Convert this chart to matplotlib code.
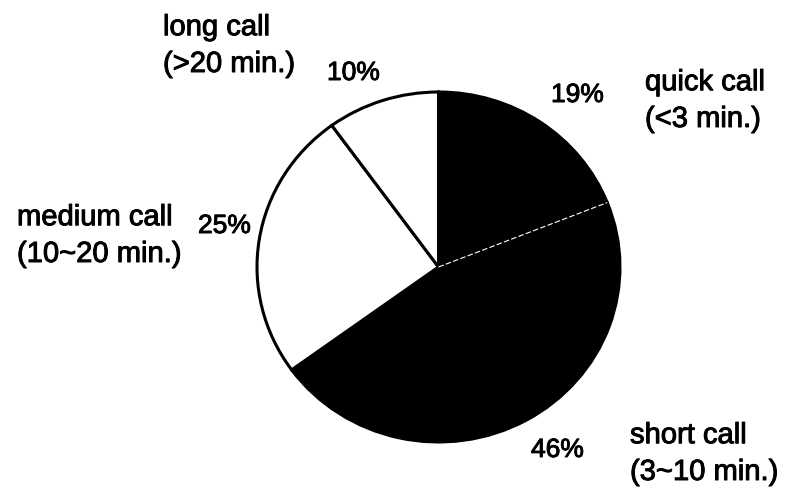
import numpy as np
import matplotlib.pyplot as plt
import matplotlib.patheffects as pe

plt.rcParams["font.family"] = ["Liberation Sans", "DejaVu Sans"]

# call-duration share, clockwise from 12 o'clock
NAMES = ["quick call", "short call", "medium call", "long call"]
RANGES = ["(<3 min.)", "(3~10 min.)", "(10~20 min.)", "(>20 min.)"]
SHARES = [19, 46, 25, 10]
FILLS = ["black", "black", "white", "white"]

W, H = 789, 498

# where the text goes, in pixels from the top-left corner
# (x, baseline of the bottom line)
NAME_POS = [(645, 127), (630, 480), (17, 262), (163, 72)]
PCT_POS = [(551, 102), (531, 457), (198, 233), (327, 80)]

# pie centre and radii in pixels (drawn a touch wider than tall)
CX, CY = 438.5, 267
RX, RY = 181.5, 175

# slightly heavier strokes on the lettering
HEAVY = [pe.withStroke(linewidth=0.7, foreground="black")]


def main():
    fig = plt.figure(figsize=(W / 100, H / 100), dpi=100)
    ax = fig.add_axes([0, 0, 1, 1])

    ax.pie(SHARES, colors=FILLS, startangle=90, counterclock=False,
           wedgeprops=dict(edgecolor="black", linewidth=2.2))
    ax.set_aspect("auto")
    ax.set_xlim(-CX / RX, (W - CX) / RX)
    ax.set_ylim(-(H - CY) / RY, CY / RY)
    ax.axis("off")

    # thin white break between the two black slices
    theta = np.deg2rad(90 - 360 * SHARES[0] / sum(SHARES))
    ax.plot([0, np.cos(theta)], [0, np.sin(theta)], color="white",
            lw=0.8, ls=(0, (5, 2)), solid_capstyle="butt")

    for name, rng, (x, y) in zip(NAMES, RANGES, NAME_POS):
        ax.annotate(name + "\n" + rng, xy=(x, H - y), xycoords="figure pixels",
                    ha="left", va="baseline", fontsize=21, linespacing=1.4,
                    path_effects=HEAVY)

    for share, (x, y) in zip(SHARES, PCT_POS):
        ax.annotate(f"{share}%", xy=(x, H - y), xycoords="figure pixels",
                    ha="left", va="baseline", fontsize=19, path_effects=HEAVY)

    fig.savefig("out.png", dpi=100)


if __name__ == "__main__":
    main()
